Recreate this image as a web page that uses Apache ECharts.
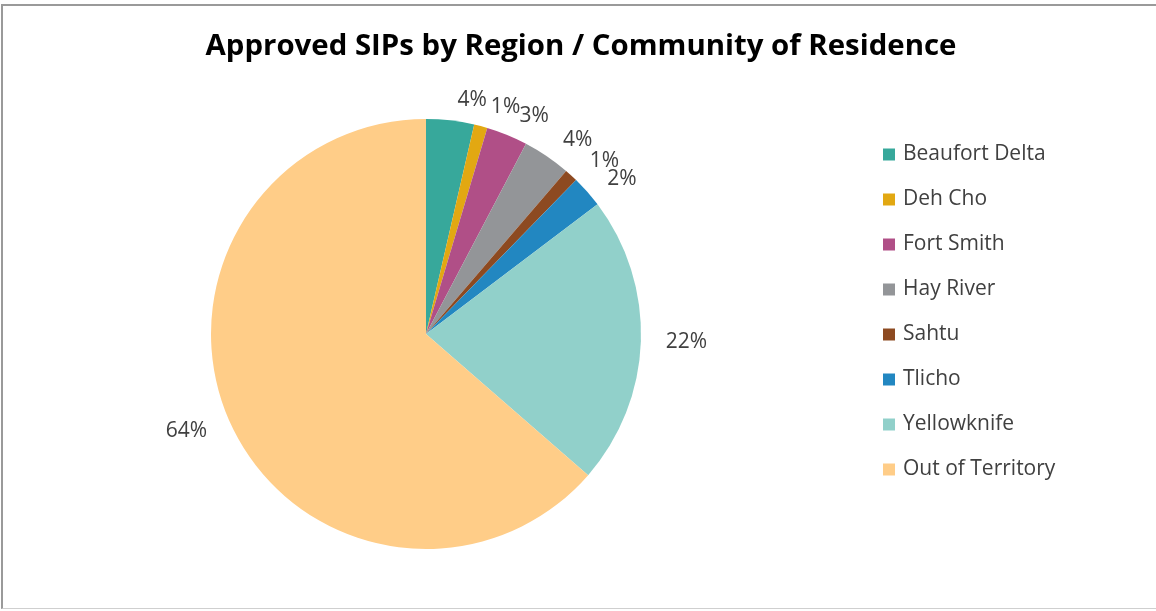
<!DOCTYPE html>
<html>
<head>
<meta charset="utf-8">
<script src="https://cdn.jsdelivr.net/npm/echarts@6/dist/echarts.min.js"></script>
<style>
  html, body { margin: 0; padding: 0; background: #fff; overflow: hidden; }
  #main { position: absolute; left: 0; top: 0; width: 1156px; height: 611px; }
  .frame { position: absolute; left: 1px; top: 4px; width: 1153px; height: 602px; border-left: 2px solid #9a9a9a; border-top: 2px solid #9a9a9a; border-bottom: 1px solid #cfcfcf; pointer-events: none; }
</style>
</head>
<body>
<div id="main"></div>
<div class="frame"></div>
<script>
var regions = ['Beaufort Delta', 'Deh Cho', 'Fort Smith', 'Hay River', 'Sahtu', 'Tlicho', 'Yellowknife', 'Out of Territory'];
var shares = [3.6, 1.0, 3.1, 3.6, 1.0, 2.4, 21.7, 63.6];
var colors = ['#37A89B', '#E2A812', '#B04F87', '#939598', '#8D4A21', '#2287C1', '#91D0CA', '#FFCD88'];

var chart = echarts.init(document.getElementById('main'));

var option = {
  color: colors,
  title: {
    text: 'Approved SIPs by Region / Community of Residence',
    left: 576,
    top: 27,
    textAlign: 'center',
    textStyle: {
      fontFamily: 'Open Sans',
      fontWeight: 'bold',
      fontSize: 29.4,
      color: '#000'
    }
  },
  legend: {
    orient: 'vertical',
    left: 878,
    top: 139,
    itemGap: 24,
    itemWidth: 12,
    itemHeight: 12,
    icon: 'rect',
    textStyle: {
      fontFamily: 'Open Sans',
      fontSize: 21,
      color: '#404040',
      padding: [0, 0, 0, 3]
    },
    data: regions
  },
  series: [{
    type: 'pie',
    center: [426, 334],
    radius: 215,
    startAngle: 90,
    avoidLabelOverlap: false,
    labelLayout: { hideOverlap: false },
    label: {
      show: true,
      position: 'outside',
      fontFamily: 'Open Sans',
      fontSize: 21,
      color: '#404040',
      formatter: function (p) {
        return Math.round(p.percent) + '%';
      }
    },
    labelLine: {
      show: false,
      length: 20,
      length2: 0
    },
    emphasis: { disabled: true },
    data: regions.map(function (r, i) {
      return { name: r, value: shares[i] };
    })
  }]
};

chart.setOption(option);
</script>
</body>
</html>
